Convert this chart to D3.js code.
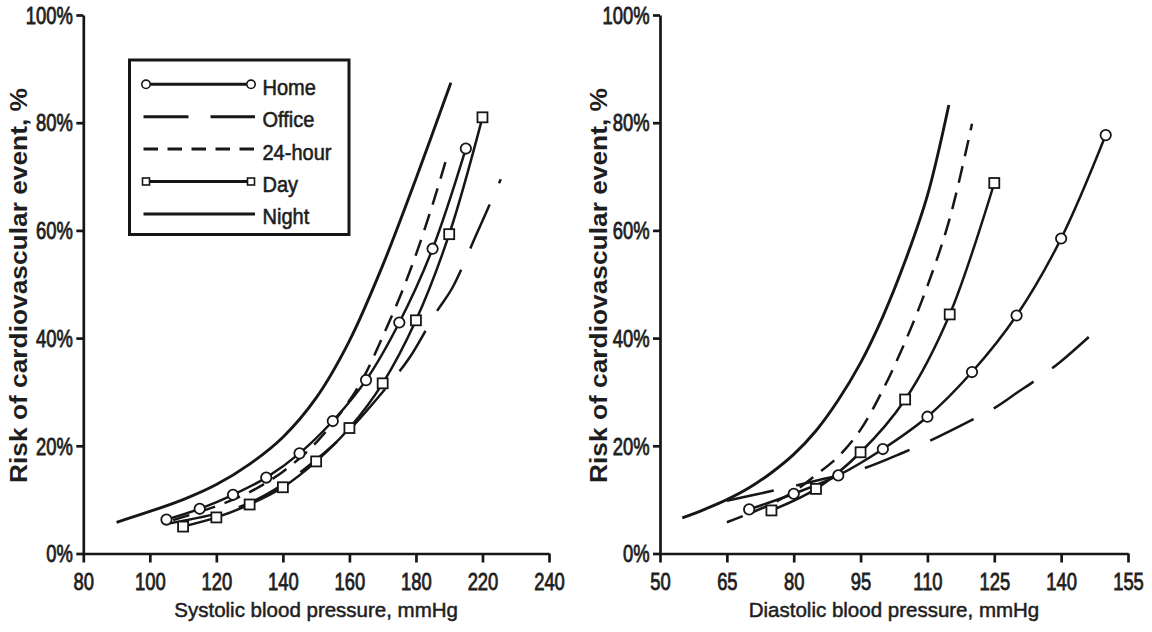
<!DOCTYPE html>
<html>
<head>
<meta charset="utf-8">
<script src="https://cdn.jsdelivr.net/npm/d3@7"></script>
<style>
  body { margin: 0; background: #fff; }
  svg text { font-family: "Liberation Sans", Arial, Helvetica, sans-serif; fill: #1e1e1e; }
</style>
</head>
<body>
<svg id="chart" width="1152" height="632"></svg>
<script>
// shared y axis (risk, %)
var riskTicks = [0, 20, 40, 60, 80, 100];

// systolic panel: 8 evenly spaced ticks, labels as printed in the figure
var sysTicks = [80, 100, 120, 140, 160, 180, 200, 220];
var sysTickLabels = ["80", "100", "120", "140", "160", "180", "220", "240"];

var sysHome = [[105, 6.3], [115, 8.3], [125, 10.9], [135, 14.1], [145, 18.6], [155, 24.6], [165, 32.2], [175, 42.9], [185, 56.6], [195, 75.2]];
var sysOffice = [[106, 5.6], [120, 7.4], [130, 9.4], [140, 12.8], [150, 17.4], [160, 23.0], [170, 30.0], [178, 36.3], [186, 44.7], [191, 49.4], [198, 59.0], [205.5, 69.5]];
var sys24h = [[107, 6.2], [120, 8.8], [130, 11.4], [140, 15.2], [150, 20.6], [160, 28.4], [165, 33.6], [170, 40.3], [175, 47.4], [180, 55.5], [185, 64.8], [189.5, 74.0]];
var sysDay = [[110, 5.0], [120, 6.7], [130, 9.1], [140, 12.3], [150, 17.1], [160, 23.3], [170, 31.6], [180, 43.3], [190, 59.3], [200, 81.0]];
var sysNight = [[90, 5.8], [100, 7.8], [110, 10.0], [120, 12.8], [130, 16.6], [140, 21.6], [150, 28.9], [160, 39.5], [170, 53.5], [180, 69.6], [190.5, 87.4]];

// diastolic panel
var diaTicks = [50, 65, 80, 95, 110, 125, 140, 155];
var diaTickLabels = ["50", "65", "80", "95", "110", "125", "140", "155"];

var diaHome = [[70, 8.2], [80, 11.1], [90, 14.5], [100, 19.4], [110, 25.4], [120, 33.7], [130, 44.2], [140, 58.5], [150, 77.7]];
var diaOffice = [[65, 9.8], [75, 11.6], [85, 13.5], [95, 15.6], [105, 18.9], [110, 20.7], [120, 24.8], [125, 27.0], [130, 29.8], [135, 32.6], [140, 35.7], [147, 40.8]];
var dia24h = [[65, 5.8], [70, 7.4], [75, 9.2], [80, 11.5], [85, 14.6], [90, 18.0], [95, 23.0], [100, 30.4], [105, 39.3], [110, 49.7], [115, 62.2], [120, 79.8]];
var diaDay = [[75, 8.0], [85, 12.0], [95, 18.8], [105, 28.6], [115, 44.4], [125, 68.8]];
var diaNight = [[55, 6.6], [60, 8.2], [65, 10.0], [70, 12.2], [75, 15.0], [80, 18.4], [85, 22.8], [90, 28.5], [95, 35.4], [100, 44.0], [105, 54.3], [110, 66.5], [114.8, 83.3]];

var seriesNames = ["Home", "Office", "24-hour", "Day", "Night"];

// line look per series
var styles = {
  "Home":    { dash: null,    marker: "circle" },
  "Office":  { dash: "48 23", marker: null },
  "24-hour": { dash: "17 10", marker: null },
  "Day":     { dash: null,    marker: "square" },
  "Night":   { dash: null,    marker: null }
};

var ink = "#161616";
var svg = d3.select("#chart");
var y = d3.scaleLinear().domain([0, 100]).range([553.5, 15]);

function drawPanel(p) {
  var x = d3.scaleLinear().domain(p.domain).range(p.range);
  var g = svg.append("g");

  // x axis
  var gx = g.append("g")
    .attr("transform", "translate(0," + y(0) + ")")
    .call(d3.axisBottom(x).tickValues(p.ticks).tickSize(9).tickSizeOuter(0)
      .tickFormat(function(d, i) { return p.labels[i]; }));
  gx.selectAll("text")
    .attr("y", 36.5).attr("dy", null)
    .attr("transform", "scale(0.8,1)")
    .style("font-size", "23px");

  // y axis
  var gy = g.append("g")
    .attr("transform", "translate(" + p.range[0] + ",0)")
    .call(d3.axisLeft(y).tickValues(riskTicks).tickSize(7).tickSizeOuter(0)
      .tickFormat(function(d) { return d + "%"; }));
  gy.selectAll("text")
    .attr("x", -10.5 / 0.8).attr("dy", "0.36em")
    .attr("transform", "scale(0.8,1)")
    .style("font-size", "23px");

  g.selectAll(".domain, .tick line").attr("stroke", ink).attr("stroke-width", 2.7);
  g.selectAll(".tick text").attr("fill", "#1e1e1e").attr("stroke", "#1e1e1e").attr("stroke-width", 0.8);

  // titles
  g.append("text")
    .attr("x", (p.range[0] + p.range[1]) / 2).attr("y", 617)
    .attr("text-anchor", "middle")
    .attr("stroke", "#1e1e1e").attr("stroke-width", 0.5)
    .style("font-size", "20.5px")
    .text(p.xTitle);

  g.append("text")
    .attr("transform", "translate(" + p.yTitleX + ",285.5) rotate(-90)")
    .attr("text-anchor", "middle")
    .attr("textLength", 395).attr("lengthAdjust", "spacingAndGlyphs")
    .style("font-size", "24px").style("font-weight", "bold")
    .text("Risk of cardiovascular event, %");

  var line = d3.line()
    .x(function(d) { return x(d[0]); })
    .y(function(d) { return y(d[1]); })
    .curve(d3.curveCatmullRom.alpha(0.5));

  // curves first, markers on top
  p.series.forEach(function(s, i) {
    var st = styles[seriesNames[i]];
    g.append("path").datum(s)
      .attr("fill", "none")
      .attr("stroke", ink)
      .attr("stroke-width", seriesNames[i] == "Night" ? 2.9 : 2.5)
      .attr("stroke-dasharray", st.dash)
      .attr("d", line);
  });

  p.series.forEach(function(s, i) {
    var st = styles[seriesNames[i]];
    if (st.marker == "circle") {
      g.selectAll(null).data(s).enter().append("circle")
        .attr("cx", function(d) { return x(d[0]); })
        .attr("cy", function(d) { return y(d[1]); })
        .attr("r", 5.2)
        .attr("fill", "#fff").attr("stroke", ink).attr("stroke-width", 1.8);
    }
    if (st.marker == "square") {
      g.selectAll(null).data(s).enter().append("rect")
        .attr("x", function(d) { return x(d[0]) - 5; })
        .attr("y", function(d) { return y(d[1]) - 5; })
        .attr("width", 10).attr("height", 10)
        .attr("fill", "#fff").attr("stroke", ink).attr("stroke-width", 1.8);
    }
  });
}

drawPanel({
  domain: [80, 220], range: [83.3, 549],
  ticks: sysTicks, labels: sysTickLabels,
  xTitle: "Systolic blood pressure, mmHg", yTitleX: 27,
  series: [sysHome, sysOffice, sys24h, sysDay, sysNight]
});

drawPanel({
  domain: [50, 155], range: [660, 1128],
  ticks: diaTicks, labels: diaTickLabels,
  xTitle: "Diastolic blood pressure, mmHg", yTitleX: 607,
  series: [diaHome, diaOffice, dia24h, diaDay, diaNight]
});

// legend box in the left panel
var lg = svg.append("g");
lg.append("rect")
  .attr("x", 129.5).attr("y", 60).attr("width", 219.5).attr("height", 174.5)
  .attr("fill", "#fff").attr("stroke", ink).attr("stroke-width", 3);

seriesNames.forEach(function(name, i) {
  var st = styles[name];
  var ly = 84.3 + i * 32.4;
  var dash = name == "Office" ? "45 22" : (name == "24-hour" ? "14.5 9.5" : null);
  lg.append("line")
    .attr("x1", 143.5).attr("x2", 255).attr("y1", ly).attr("y2", ly)
    .attr("stroke", ink).attr("stroke-width", 3)
    .attr("stroke-dasharray", dash);
  [146, 251].forEach(function(mx) {
    if (st.marker == "circle") {
      lg.append("circle").attr("cx", mx).attr("cy", ly).attr("r", 4.2)
        .attr("fill", "#fff").attr("stroke", ink).attr("stroke-width", 1.6);
    }
    if (st.marker == "square") {
      lg.append("rect").attr("x", mx - 3.5).attr("y", ly - 3.5).attr("width", 7).attr("height", 7)
        .attr("fill", "#fff").attr("stroke", ink).attr("stroke-width", 1.6);
    }
  });
  lg.append("text")
    .attr("transform", "translate(262.5," + (ly + 10.5) + ") scale(0.91,1)")
    .attr("stroke", "#1e1e1e").attr("stroke-width", 0.6)
    .style("font-size", "22px")
    .text(name);
});
</script>
</body>
</html>
